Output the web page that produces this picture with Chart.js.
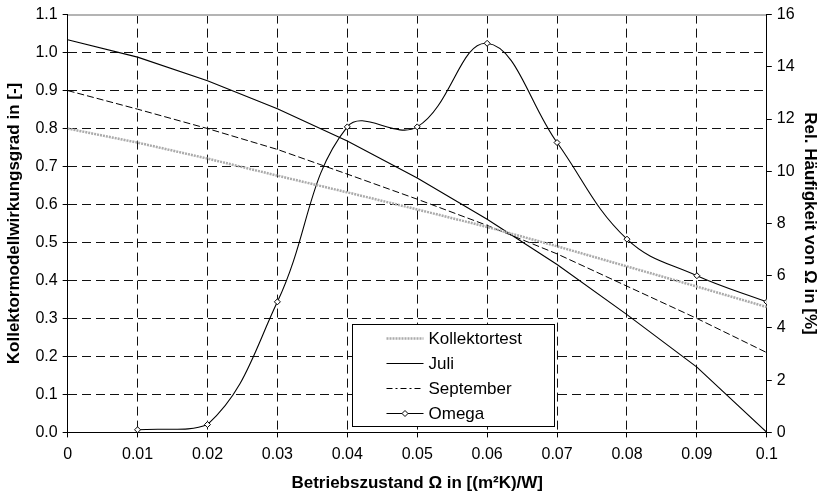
<!DOCTYPE html>
<html>
<head>
<meta charset="utf-8">
<script src="https://cdn.jsdelivr.net/npm/chart.js@4.4.0/dist/chart.umd.min.js"></script>
<style>
    body { margin: 0; background: #fff; }
    #wrap { width: 826px; height: 494px; }
</style>
</head>
<body>
<div id="wrap"><canvas id="chart" width="826" height="494"></canvas></div>
<script>
// Betriebszustand Omega in [(m²K)/W]
const omega = [0, 0.01, 0.02, 0.03, 0.04, 0.05, 0.06, 0.07, 0.08, 0.09, 0.1];
// Kollektormodellwirkungsgrad [-]
const kollektortest = [0.800, 0.763, 0.721, 0.676, 0.632, 0.587, 0.541, 0.490, 0.437, 0.384, 0.330];
const juli = [1.034, 0.988, 0.926, 0.852, 0.767, 0.670, 0.561, 0.442, 0.310, 0.172, 0.000];
const september = [0.900, 0.851, 0.800, 0.745, 0.680, 0.614, 0.545, 0.470, 0.385, 0.300, 0.210];
// Rel. Häufigkeit von Omega [%]
const omegaFreq = [null, 0.1, 0.3, 5.0, 11.7, 11.7, 14.9, 11.1, 7.4, 6.0, 5.0];

const xTicks = [0, 0.01, 0.02, 0.03, 0.04, 0.05, 0.06, 0.07, 0.08, 0.09, 0.1];
const yLeftTicks = [0, 0.1, 0.2, 0.3, 0.4, 0.5, 0.6, 0.7, 0.8, 0.9, 1.0, 1.1];
const yRightTicks = [0, 2, 4, 6, 8, 10, 12, 14, 16];

const toPoints = (values) => omega
    .map((x, i) => ({ x: x, y: values[i] }))
    .filter(p => p.y !== null);

Chart.defaults.font.family = '"Liberation Sans", Arial, sans-serif';
Chart.defaults.color = '#000';

// legend drawn as a framed box inside the plot, like the original
const boxLegend = {
    id: 'boxLegend',
    afterDatasetsDraw(chart) {
        const { ctx, chartArea } = chart;
        const left = Math.round(chartArea.left + (chartArea.right - chartArea.left) * 0.407) + 0.5;
        const top = Math.round(chartArea.top + (chartArea.bottom - chartArea.top) * 0.74) + 0.5;
        const w = 202, h = 102;
        ctx.save();
        ctx.fillStyle = '#fff';
        ctx.fillRect(left, top, w, h);
        ctx.strokeStyle = '#000';
        ctx.lineWidth = 1;
        ctx.strokeRect(left, top, w, h);
        ctx.font = '17px "Liberation Sans", Arial, sans-serif';
        ctx.textBaseline = 'middle';
        chart.data.datasets.forEach((ds, i) => {
            const yy = Math.round(top + 13 + i * 25) + 0.5;
            const x0 = left + 34, x1 = left + 71;
            ctx.strokeStyle = ds.borderColor;
            ctx.lineWidth = ds.borderWidth;
            ctx.setLineDash(ds.legendDash || ds.borderDash || []);
            ctx.beginPath();
            ctx.moveTo(x0, yy);
            ctx.lineTo(x1, yy);
            ctx.stroke();
            ctx.setLineDash([]);
            if (ds.pointRadius > 0) {
                const cx = (x0 + x1) / 2, r = ds.pointRadius;
                ctx.fillStyle = ds.pointBackgroundColor;
                ctx.beginPath();
                ctx.moveTo(cx, yy - r);
                ctx.lineTo(cx + r, yy);
                ctx.lineTo(cx, yy + r);
                ctx.lineTo(cx - r, yy);
                ctx.closePath();
                ctx.fill();
                ctx.lineWidth = 1;
                ctx.stroke();
            }
            ctx.fillStyle = '#000';
            ctx.fillText(ds.label, x1 + 5, yy + 1);
        });
        ctx.restore();
    }
};

const gridDash = [9, 5];

new Chart(document.getElementById('chart'), {
    type: 'line',
    data: {
        datasets: [{
            label: 'Kollektortest',
            data: toPoints(kollektortest),
            borderColor: '#ababab',
            borderWidth: 2.5,
            borderDash: [2, 1],
            pointRadius: 0,
            tension: 0,
            yAxisID: 'y'
        }, {
            label: 'Juli',
            data: toPoints(juli),
            borderColor: '#000',
            borderWidth: 1.1,
            pointRadius: 0,
            tension: 0,
            yAxisID: 'y'
        }, {
            label: 'September',
            data: toPoints(september),
            borderColor: '#000',
            borderWidth: 1,
            borderDash: [7, 3],
            legendDash: [6, 3, 2, 3],
            pointRadius: 0,
            tension: 0,
            yAxisID: 'y'
        }, {
            label: 'Omega',
            data: toPoints(omegaFreq),
            borderColor: '#000',
            borderWidth: 1.1,
            pointStyle: 'rectRot',
            pointRadius: 3,
            pointBorderWidth: 1,
            pointBackgroundColor: '#fff',
            pointBorderColor: '#000',
            tension: 0.4,
            yAxisID: 'y1'
        }]
    },
    options: {
        responsive: false,
        animation: false,
        layout: { padding: { top: 6, right: 4, bottom: 0, left: 4 } },
        plugins: {
            legend: { display: false },
            tooltip: { enabled: false }
        },
        scales: {
            x: {
                type: 'linear',
                min: 0,
                max: 0.1,
                afterBuildTicks: s => { s.ticks = xTicks.map(v => ({ value: v })); },
                ticks: {
                    font: { size: 16 },
                    padding: 8,
                    maxRotation: 0,
                    callback: v => String(v)
                },
                grid: {
                    color: '#111',
                    tickColor: '#000',
                    tickLength: 5,
                    tickBorderDash: []
                },
                border: { color: '#000', width: 1, dash: gridDash },
                title: {
                    display: true,
                    text: 'Betriebszustand Ω in [(m²K)/W]',
                    font: { size: 17, weight: 'bold' },
                    padding: { top: 1, bottom: 0 }
                }
            },
            x2: {
                type: 'linear',
                position: 'top',
                min: 0,
                max: 0.1,
                ticks: { display: false },
                grid: { display: false, drawTicks: false },
                border: { color: '#b4b4b4', width: 2 }
            },
            y: {
                position: 'left',
                min: 0,
                max: 1.1,
                afterBuildTicks: s => { s.ticks = yLeftTicks.map(v => ({ value: v })); },
                ticks: {
                    font: { size: 16 },
                    padding: 5,
                    callback: v => v.toFixed(1)
                },
                grid: {
                    color: c => (c.tick && c.tick.value >= 1.1) ? 'rgba(0,0,0,0)' : '#111',
                    tickColor: '#000',
                    tickLength: 5,
                    tickBorderDash: []
                },
                border: { color: '#000', width: 1, dash: gridDash },
                title: {
                    display: true,
                    text: 'Kollektormodellwirkungsgrad in [-]',
                    font: { size: 17, weight: 'bold' },
                    padding: { top: 0, bottom: 6 }
                }
            },
            y1: {
                position: 'right',
                min: 0,
                max: 16,
                afterBuildTicks: s => { s.ticks = yRightTicks.map(v => ({ value: v })); },
                ticks: {
                    font: { size: 16 },
                    padding: 5,
                    callback: v => String(v)
                },
                grid: {
                    drawOnChartArea: false,
                    tickColor: '#000',
                    tickLength: 5
                },
                border: { color: '#000', width: 1 },
                title: {
                    display: true,
                    text: 'Rel. Häufigkeit von Ω in [%]',
                    font: { size: 17, weight: 'bold' },
                    padding: { top: 2, bottom: 0 }
                }
            }
        }
    },
    plugins: [boxLegend]
});
</script>
</body>
</html>
